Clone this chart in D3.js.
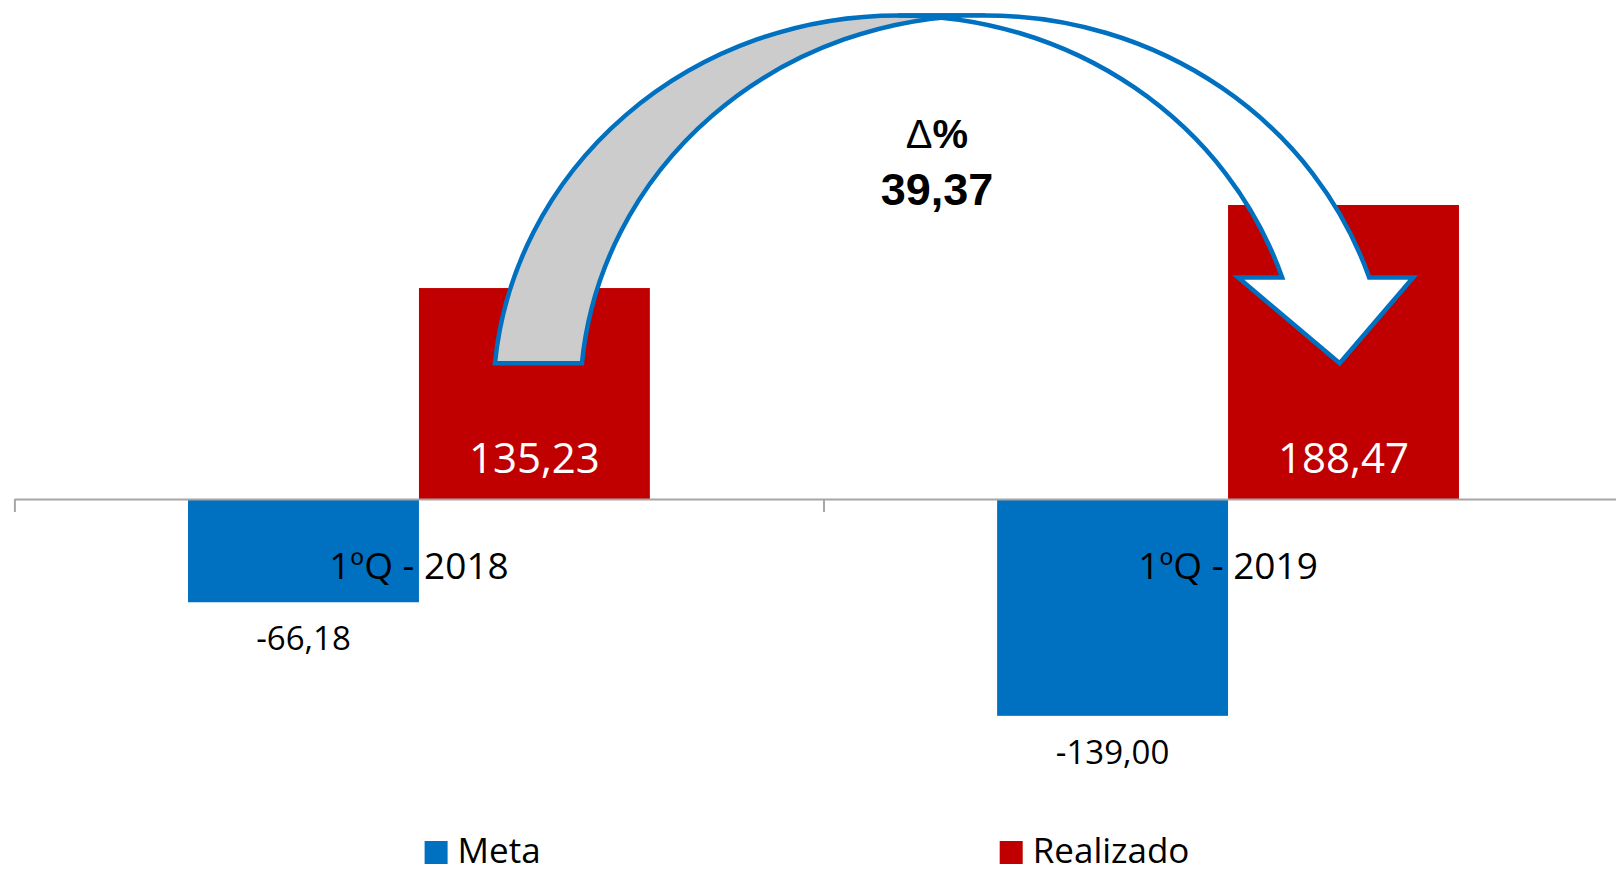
<!doctype html>
<meta charset="utf-8">
<style>
body { margin: 0; background: #fff; }
text { font-family: "Open Sans", sans-serif; }
</style>
<body>
<div id="chart"></div>
<script src="https://cdn.jsdelivr.net/npm/d3@7"></script>
<script>
// data
var categories = ["1ºQ - 2018", "1ºQ - 2019"];
var series = ["Meta", "Realizado"];
var meta = [-66.18, -139.00];
var realizado = [135.23, 188.47];
var colors = ["#0070C0", "#C00000"];
var deltaSymbol = "Δ";
var deltaValue = 39.37;

var width = 1616, height = 873;
var br = d3.formatLocale({decimal: ",", thousands: ".", grouping: [3], currency: ["R$", ""], minus: "-"});
var fmt = br.format(".2f");

var svg = d3.select("#chart").append("svg")
    .attr("width", width).attr("height", height);

// categories run past the right edge, like the original
var x0 = d3.scaleBand().domain(categories).range([14.4, 1632.6]);
var bw = x0.bandwidth();
var x1 = d3.scaleBand().domain(series).range([bw * 0.2146, bw * 0.7854]);
var y = d3.scaleLinear().domain([-200, 300]).range([811, 31]);

var rows = categories.map(function(c, i) {
    return {cat: c, values: [meta[i], realizado[i]]};
});

var groups = svg.selectAll("g.grp").data(rows).enter().append("g")
    .attr("class", "grp")
    .attr("transform", function(d) { return "translate(" + x0(d.cat) + ",0)"; });

groups.selectAll("rect").data(function(d) {
        return d.values.map(function(v, j) { return {s: series[j], v: v, j: j}; });
    }).enter().append("rect")
    .attr("x", function(d) { return x1(d.s); })
    .attr("width", x1.bandwidth())
    .attr("y", function(d) { return y(Math.max(0, d.v)); })
    .attr("height", function(d) { return Math.abs(y(d.v) - y(0)); })
    .attr("fill", function(d) { return colors[d.j]; });

// axis along zero with ticks between categories
var edges = d3.scaleLinear().domain([0, categories.length]).range(x0.range());
svg.append("g")
    .attr("transform", "translate(0," + y(0) + ")")
    .call(d3.axisBottom(edges).tickValues(d3.range(categories.length + 1))
        .tickSizeInner(13).tickSizeOuter(0).tickFormat(""))
    .call(function(g) {
        g.selectAll("path, line").attr("stroke", "#a6a6a6").attr("stroke-width", 2);
    });

// value labels
groups.selectAll("text.val").data(function(d) {
        return d.values.map(function(v, j) { return {s: series[j], v: v, j: j}; });
    }).enter().append("text")
    .attr("class", "val")
    .attr("text-anchor", "middle")
    .attr("x", function(d) { return x1(d.s) + x1.bandwidth() / 2; })
    .attr("y", function(d) { return d.v > 0 ? y(0) - 26 : y(d.v) + 48; })
    .attr("fill", function(d) { return d.v > 0 ? "#fff" : "#000"; })
    .style("font-size", function(d) { return d.v > 0 ? "42px" : "33px"; })
    .text(function(d) { return fmt(d.v); });

// category labels
svg.selectAll("text.cat").data(categories).enter().append("text")
    .attr("class", "cat")
    .attr("text-anchor", "middle")
    .attr("x", function(d) { return x0(d) + bw / 2; })
    .attr("y", 579)
    .style("font-size", "37px")
    .text(function(d) { return d; });

// legend
var leg = svg.selectAll("g.leg").data(series).enter().append("g")
    .attr("class", "leg")
    .attr("transform", function(d, i) { return "translate(" + [424.6, 999.7][i] + ",841)"; });
leg.append("rect").attr("width", 23).attr("height", 23)
    .attr("fill", function(d, i) { return colors[i]; });
leg.append("text").attr("x", 33).attr("y", 22).style("font-size", "35px")
    .text(function(d) { return d; });

// curved arrow from the 2018 Realizado bar to the 2019 one
var th = 87, rx = 405, ry = 384;
var tailX = x0(categories[0]) + x1("Realizado") + x1.bandwidth() / 2 + 4;
var tailY = y(87), topY = y(310), headY = y(142);
var cy = topY + ry;
function half(yy) { return rx * Math.sqrt(Math.max(0, 1 - Math.pow((yy - cy) / ry, 2))); }
var cxA = tailX - th / 2 + half(tailY), cxB = cxA + th;
var aR = cxA + half(headY), bR = cxB + half(headY);
var tipX = (aR + bR) / 2 + 14;

var back = "M" + (cxA - half(tailY)) + "," + tailY +
    " A" + rx + "," + ry + " 0 0 1 " + cxA + "," + topY +
    " L" + cxB + "," + topY +
    " A" + rx + "," + ry + " 0 0 0 " + (cxB - half(tailY)) + "," + tailY + " Z";
var front = "M" + cxA + "," + topY +
    " A" + rx + "," + ry + " 0 0 1 " + aR + "," + headY +
    " L" + (aR - 44) + "," + headY +
    " L" + tipX + "," + tailY +
    " L" + (bR + 44) + "," + headY +
    " L" + bR + "," + headY +
    " A" + rx + "," + ry + " 0 0 0 " + cxB + "," + topY + " Z";

svg.append("path").attr("d", back).attr("fill", "#cccccc")
    .attr("stroke", "#0070C0").attr("stroke-width", 4.5).attr("stroke-linejoin", "miter");
svg.append("path").attr("d", front).attr("fill", "#fff")
    .attr("stroke", "#0070C0").attr("stroke-width", 4.5).attr("stroke-linejoin", "miter");

// delta annotation
var note = svg.append("text").attr("text-anchor", "middle")
    .style("font-family", "'Liberation Sans', Arial, sans-serif")
    .style("font-weight", "bold");
var line1 = note.append("tspan").attr("x", 937).attr("y", 148).style("font-size", "40px");
line1.append("tspan").style("font-weight", "normal").text(deltaSymbol);
line1.append("tspan").text("%");
note.append("tspan").attr("x", 937).attr("y", 205).style("font-size", "45px")
    .text(fmt(deltaValue));
</script>
</body>
